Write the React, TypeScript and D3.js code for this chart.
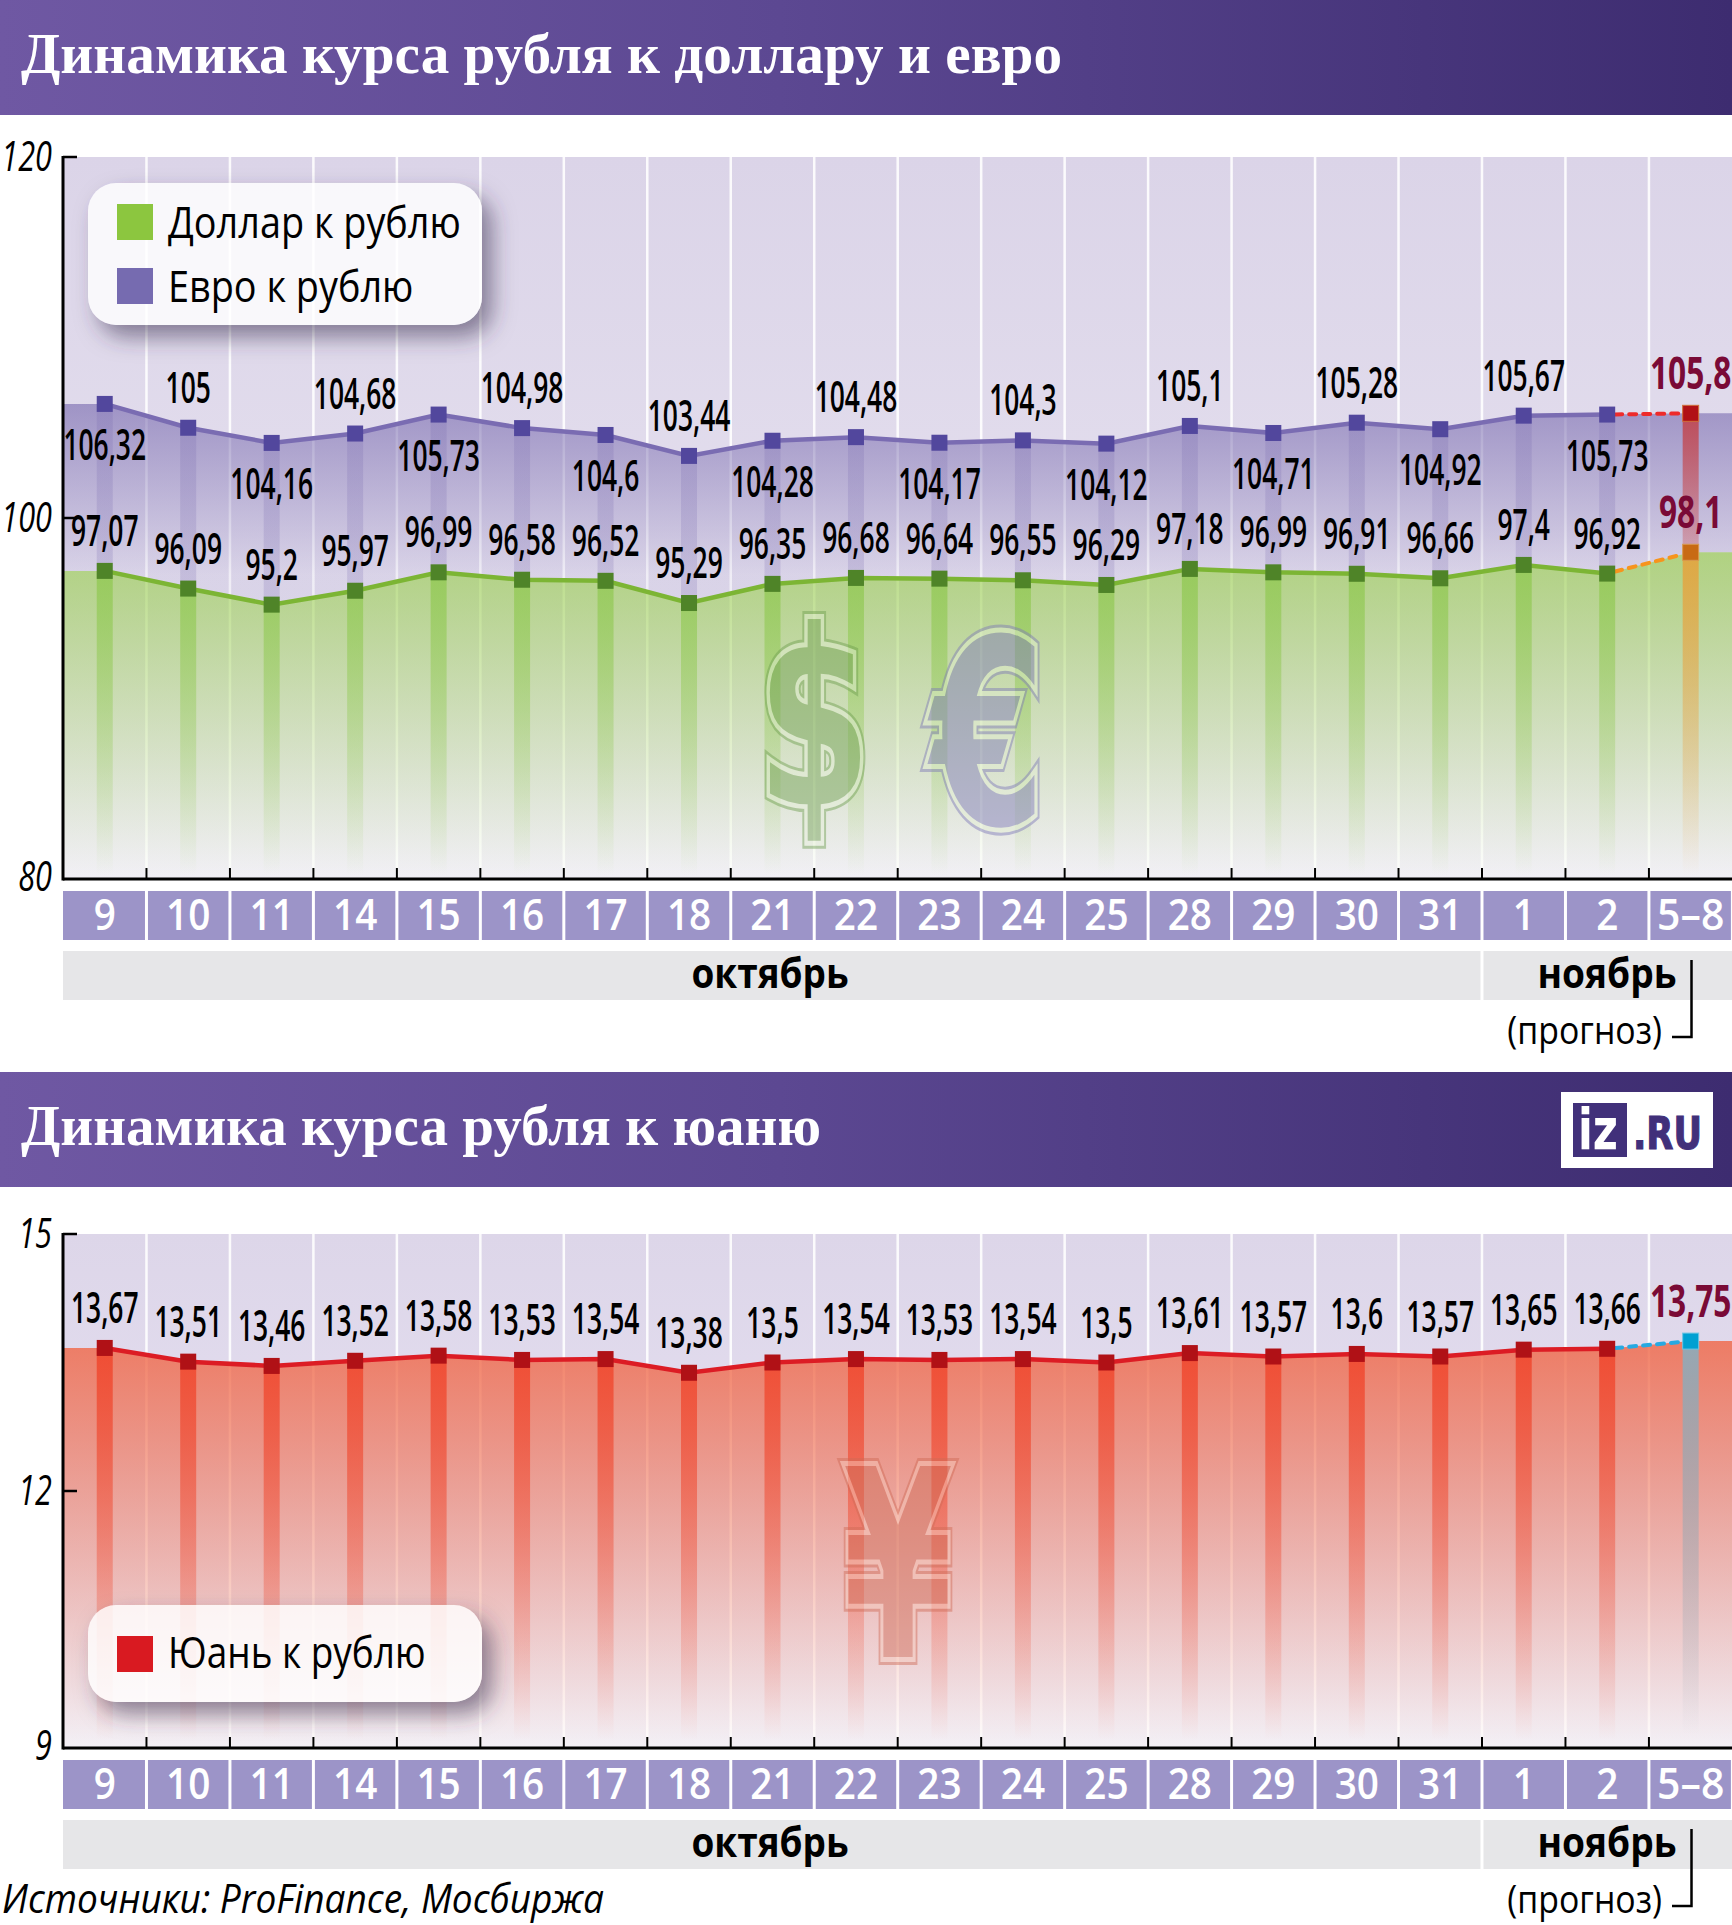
import React from 'react';
import * as d3 from 'd3';

const WIDTH = 1732;
const HEIGHT = 1925;

// дни торгов, последний столбец - прогноз
const days = ['9', '10', '11', '14', '15', '16', '17', '18', '21', '22', '23', '24', '25', '28', '29', '30', '31', '1', '2', '5–8'];
const euroValues = [106.32, 105, 104.16, 104.68, 105.73, 104.98, 104.6, 103.44, 104.28, 104.48, 104.17, 104.3, 104.12, 105.1, 104.71, 105.28, 104.92, 105.67, 105.73, 105.8];
const dollarValues = [97.07, 96.09, 95.2, 95.97, 96.99, 96.58, 96.52, 95.29, 96.35, 96.68, 96.64, 96.55, 96.29, 97.18, 96.99, 96.91, 96.66, 97.4, 96.92, 98.1];
const yuanValues = [13.67, 13.51, 13.46, 13.52, 13.58, 13.53, 13.54, 13.38, 13.5, 13.54, 13.53, 13.54, 13.5, 13.61, 13.57, 13.6, 13.57, 13.65, 13.66, 13.75];
const rubTicks = [120, 100, 80];
const yuanTicks = [15, 12, 9];

const SANS = '"Open Sans", "Noto Sans", sans-serif';
const LAST = days.length - 1;
const fmt = (v: number) => String(v).replace('.', ',');

const x = d3.scaleBand<string>().domain(days).range([63, WIDTH + 0.4]);
const cx = (i: number) => (x(days[i]) as number) + x.bandwidth() / 2;

// растянутый по вертикали шрифт: всё узкое делаем через scale по x
const T: React.FC<any> = ({ x: tx, y, sx = 0.62, size = 42, anchor = 'middle', weight = 400, fill = '#000', italic, family = SANS, children }) => (
  <text
    transform={`translate(${tx},${y}) scale(${sx},1)`}
    fontFamily={family}
    fontSize={size}
    fontWeight={weight}
    fontStyle={italic ? 'italic' : 'normal'}
    textAnchor={anchor}
    fill={fill}
  >
    {children}
  </text>
);

const Fade: React.FC<any> = ({ id, y1, y2, color, from, to = 0 }) => (
  <linearGradient id={id} gradientUnits="userSpaceOnUse" x1={0} x2={0} y1={y1} y2={y2}>
    <stop offset="0" stopColor={color} stopOpacity={from} />
    <stop offset="1" stopColor={color} stopOpacity={to} />
  </linearGradient>
);

// рамка графика: фон, сетка, оси, подписи дат и месяцев
const Frame: React.FC<any> = ({ y, ticks, id }) => {
  const [top, bottom] = [y(ticks[0]), y(ticks[2])];
  const edges = days.slice(1).map(d => x(d) as number);
  const dy = bottom;
  return (
    <g>
      <rect x={63} y={top} width={WIDTH - 63} height={bottom - top} fill={`url(#${id})`} />
      {edges.map(e => (
        <line key={e} x1={e} x2={e} y1={top} y2={bottom} stroke="#fff" strokeWidth={2.5} opacity={0.9} />
      ))}
      <g>
        {days.map(d => (
          <g key={d}>
            <rect x={(x(d) as number) + (d === '9' ? 0 : 1.5)} y={dy + 12} width={x.bandwidth() - (d === '9' ? 1.5 : 3)} height={49} fill="#9c94c8" />
            <T x={(x(d) as number) + x.bandwidth() / 2} y={dy + 51} size={44} sx={d === '5–8' ? 0.93 : 0.88} weight={600} fill="#fff">{d}</T>
          </g>
        ))}
        <rect x={63} y={dy + 72} width={(x('1') as number) - 64.5} height={49} fill="#e6e6e8" />
        <rect x={(x('1') as number) + 1.5} y={dy + 72} width={WIDTH - (x('1') as number)} height={49} fill="#e6e6e8" />
        <T x={770} y={dy + 109} size={42} sx={0.88} weight={700}>октябрь</T>
        <T x={1607} y={dy + 109} size={42} sx={0.886} weight={700}>ноябрь</T>
        <T x={1662} y={dy + 165} size={38} sx={0.89} anchor="end">(прогноз)</T>
        <path d={`M1691.5,${dy + 81}V${dy + 158}H1672`} fill="none" stroke="#000" strokeWidth={2.5} />
      </g>
    </g>
  );
};

const Axes: React.FC<any> = ({ y, ticks }) => {
  const [top, bottom] = [y(ticks[0]), y(ticks[2])];
  return (
    <g>
      <line x1={63} x2={63} y1={top - 1} y2={bottom + 1.5} stroke="#000" strokeWidth={3} />
      <line x1={63} x2={WIDTH} y1={bottom} y2={bottom} stroke="#000" strokeWidth={3} />
      {days.slice(1).map(d => (
        <line key={d} x1={x(d) as number} x2={x(d) as number} y1={bottom - 11} y2={bottom} stroke="#000" strokeWidth={2} />
      ))}
      {ticks.slice(0, 2).map((t: number) => (
        <line key={t} x1={63} x2={77} y1={y(t)} y2={y(t)} stroke="#000" strokeWidth={2.5} />
      ))}
      {ticks.map((t: number, i: number) => (
        <T key={t} x={52} y={y(t) + (i === 2 ? 12 : 14)} size={42} sx={0.73} italic anchor="end">{t}</T>
      ))}
    </g>
  );
};

// полный ряд с плоскими концами до краёв графика
const withEdges = (vals: number[]) => [
  { px: 63, v: vals[0] },
  ...vals.map((v, i) => ({ px: cx(i), v })),
  { px: WIDTH, v: vals[LAST] },
];

const Line: React.FC<any> = ({ vals, y, color, dash }) => {
  const line = d3.line<number>().x((_, i) => cx(i)).y(v => y(v));
  return (
    <g>
      <path d={line(vals.slice(0, LAST)) || ''} fill="none" stroke={color} strokeWidth={4.5} />
      <line
        x1={cx(LAST - 1) + 8}
        x2={cx(LAST) - 8}
        y1={y(vals[LAST - 1] + (vals[LAST] - vals[LAST - 1]) * 0.1)}
        y2={y(vals[LAST] - (vals[LAST] - vals[LAST - 1]) * 0.1)}
        stroke={dash}
        strokeWidth={4}
        strokeLinecap="round"
        strokeDasharray="7 7"
      />
    </g>
  );
};

const Markers: React.FC<any> = ({ vals, y, color, lastColor, lastStroke }) => (
  <g>
    {vals.map((v: number, i: number) => (
      <rect
        key={i}
        x={cx(i) - 8}
        y={y(v) - 8}
        width={16}
        height={16}
        fill={i === LAST ? lastColor : color}
        stroke={i === LAST ? lastStroke : 'none'}
        strokeWidth={1}
      />
    ))}
  </g>
);

const Labels: React.FC<any> = ({ vals, y, above }) => (
  <g>
    {vals.map((v: number, i: number) => {
      const up = above(i);
      return i === LAST
        ? <T key={i} x={cx(i) - 0} y={y(v) + (up ? -24 : 56)} size={44} sx={0.72} weight={700} fill="#7a0a36">{fmt(v)}</T>
        : <T key={i} x={cx(i)} y={y(v) + (up ? -25 : 56)} size={44} sx={0.6} weight={600}>{fmt(v)}</T>;
    })}
  </g>
);

const Legend: React.FC<any> = ({ top, height, items }) => (
  <g>
    <rect x={88} y={top} width={394} height={height} rx={28} fill="#3a3050" filter="url(#shadow)" />
    <rect x={88} y={top} width={394} height={height} rx={28} fill="#fff" fillOpacity={0.82} />
    {items.map((it: any, i: number) => (
      <g key={it.label}>
        <rect x={117} y={top + (height === 142 ? 21 + i * 64 : 31)} width={36} height={36} fill={it.color} />
        <T x={168} y={top + (height === 142 ? 55 + i * 64 : 63)} size={44} sx={it.sx} anchor="start">{it.label}</T>
      </g>
    ))}
  </g>
);

// полупрозрачный знак валюты с двойным контуром
const Sign: React.FC<any> = ({ glyph, tx, ty, sx, size, color, light }) => (
  <text
    transform={`translate(${tx},${ty}) scale(${sx},1)`}
    fontFamily='"DejaVu Sans", sans-serif'
    fontWeight={700}
    fontSize={size}
    textAnchor="middle"
    opacity={0.46}
  >
    <tspan fill="none" stroke={color} strokeWidth={16} strokeLinejoin="miter">{glyph}</tspan>
    <tspan x={0} fill="none" stroke={light} strokeWidth={10} strokeLinejoin="miter">{glyph}</tspan>
    <tspan x={0} fill={color}>{glyph}</tspan>
  </text>
);

const Banner: React.FC<any> = ({ top, height, title, length }) => (
  <g>
    <rect x={0} y={top} width={WIDTH} height={height} fill="url(#banner)" />
    <text x={21} y={top + 73} fontFamily='"Liberation Serif", serif' fontWeight={700} fontSize={57} fill="#fff" textLength={length} lengthAdjust="spacingAndGlyphs">
      {title}
    </text>
  </g>
);

export default function App() {
  const yRub = d3.scaleLinear().domain([80, 120]).range([879, 157]);
  const yYuan = d3.scaleLinear().domain([9, 15]).range([1748, 1234]);

  const euroArea = d3.area<{ px: number; v: number }>()
    .x(d => d.px)
    .y0((_, i) => yRub(withEdges(dollarValues)[i].v))
    .y1(d => yRub(d.v));
  const dollarArea = d3.area<{ px: number; v: number }>().x(d => d.px).y0(879).y1(d => yRub(d.v));
  const yuanArea = d3.area<{ px: number; v: number }>().x(d => d.px).y0(1748).y1(d => yYuan(d.v));

  return (
    <svg width={WIDTH} height={HEIGHT} style={{ position: 'absolute', left: 0, top: 0, display: 'block', background: '#fff' }}>
      <defs>
        <linearGradient id="banner" x1="0" x2="1" y1="0" y2="0">
          <stop offset="0" stopColor="#6f58a3" />
          <stop offset="0.45" stopColor="#5c4892" />
          <stop offset="1" stopColor="#3d2c70" />
        </linearGradient>
        <linearGradient id="bgRub" x1="0" x2="0" y1="0" y2="1">
          <stop offset="0" stopColor="#dbd4e8" />
          <stop offset="0.6" stopColor="#e4dfee" />
          <stop offset="1" stopColor="#f2f0f6" />
        </linearGradient>
        <linearGradient id="bgYuan" x1="0" x2="0" y1="0" y2="1">
          <stop offset="0" stopColor="#ddd6e9" />
          <stop offset="0.4" stopColor="#e2dcee" />
          <stop offset="1" stopColor="#f3f0f6" />
        </linearGradient>
        <Fade id="euroFill" y1={404} y2={575} color="#7a6cb0" from={0.64} to={0.1} />
        <Fade id="dollarFill" y1={550} y2={879} color="#95cb48" from={0.66} />
        <Fade id="yuanFill" y1={1340} y2={1748} color="#f06a4b" from={0.84} />
        <Fade id="euroBar" y1={404} y2={575} color="#7a6cb0" from={0.25} to={0.22} />
        <Fade id="dollarBar" y1={560} y2={876} color="#8ec84e" from={0.75} />
        <Fade id="foreEuroBar" y1={414} y2={553} color="#c8302f" from={0.72} to={0.25} />
        <Fade id="foreDollarBar" y1={553} y2={876} color="#ef9a2f" from={0.75} />
        <Fade id="yuanBar" y1={1340} y2={1740} color="#f0442a" from={0.85} />
        <Fade id="foreYuanBar" y1={1342} y2={1735} color="#95a8b4" from={1} />
        <filter id="shadow" x="-20%" y="-30%" width="150%" height="170%">
          <feOffset in="SourceAlpha" dx={10} dy={12} result="off" />
          <feGaussianBlur in="off" stdDeviation={11} result="blur" />
          <feFlood floodColor="#3a3050" floodOpacity={0.55} />
          <feComposite in2="blur" operator="in" result="sh" />
          <feComposite in="sh" in2="SourceAlpha" operator="out" />
        </filter>
      </defs>

      {/* рубль к доллару и евро */}
      <Banner top={0} height={115} title="Динамика курса рубля к доллару и евро" length={1041} />
      <Frame y={yRub} ticks={rubTicks} id="bgRub" />
      <path d={euroArea(withEdges(euroValues)) || ''} fill="url(#euroFill)" />
      <path d={dollarArea(withEdges(dollarValues)) || ''} fill="url(#dollarFill)" />
      {days.map((d, i) => (
        <g key={d}>
          <rect x={cx(i) - 8} y={yRub(euroValues[i])} width={16} height={yRub(dollarValues[i]) - yRub(euroValues[i])} fill={i === LAST ? 'url(#foreEuroBar)' : 'url(#euroBar)'} />
          <rect x={cx(i) - 8} y={yRub(dollarValues[i])} width={16} height={877 - yRub(dollarValues[i])} fill={i === LAST ? 'url(#foreDollarBar)' : 'url(#dollarBar)'} />
        </g>
      ))}
      <Sign glyph="$" tx={814} ty={805} sx={0.67} size={245} color="#6f9f50" light="#e6f0d8" />
      <Sign glyph="€" tx={988} ty={824} sx={0.64} size={258} color="#7d78b8" light="#e4efd4" />
      <Line vals={euroValues} y={yRub} color="#7a6cb2" dash="#ee2b2b" />
      <Line vals={dollarValues} y={yRub} color="#7cb534" dash="#f7941d" />
      <Markers vals={euroValues} y={yRub} color="#52479d" lastColor="#b11116" lastStroke="#d0703a" />
      <Markers vals={dollarValues} y={yRub} color="#4f8428" lastColor="#c86a14" lastStroke="#d89a50" />
      <Labels vals={euroValues} y={yRub} above={(i: number) => i % 2 === 1} />
      <Labels vals={dollarValues} y={yRub} above={() => true} />
      <Axes y={yRub} ticks={rubTicks} />
      <Legend
        top={183}
        height={142}
        items={[
          { label: 'Доллар к рублю', color: '#8cc63f', sx: 0.86 },
          { label: 'Евро к рублю', color: '#766bb0', sx: 0.86 },
        ]}
      />

      {/* рубль к юаню */}
      <Banner top={1072} height={115} title="Динамика курса рубля к юаню" length={800} />
      <rect x={1561} y={1092} width={152} height={76} fill="#fff" />
      <rect x={1573} y={1103} width={54} height={54} fill="#41307a" />
      <T x={1578} y={1149} size={57} sx={0.76} weight={700} fill="#fff" anchor="start" family='"DejaVu Sans", sans-serif'>iz</T>
      <text x={1633} y={1149} fontFamily='"DejaVu Sans", sans-serif' fontWeight={700} fontSize={44} fill="#41307a" stroke="#41307a" strokeWidth={1.2} textLength={69} lengthAdjust="spacingAndGlyphs">.RU</text>

      <Frame y={yYuan} ticks={yuanTicks} id="bgYuan" />
      <path d={yuanArea(withEdges(yuanValues)) || ''} fill="url(#yuanFill)" />
      {days.map((d, i) => (
        <rect key={d} x={cx(i) - 8} y={yYuan(yuanValues[i])} width={16} height={1742 - yYuan(yuanValues[i])} fill={i === LAST ? 'url(#foreYuanBar)' : 'url(#yuanBar)'} />
      ))}
      <Sign glyph="¥" tx={898} ty={1657} sx={0.6} size={262} color="#cf6a55" light="#f6c9ba" />
      <Line vals={yuanValues} y={yYuan} color="#dc1c24" dash="#27a9e1" />
      <Markers vals={yuanValues} y={yYuan} color="#b01116" lastColor="#00a0d2" lastStroke="#6cc5e4" />
      <Labels vals={yuanValues} y={yYuan} above={() => true} />
      <Axes y={yYuan} ticks={yuanTicks} />
      <Legend top={1605} height={97} items={[{ label: 'Юань к рублю', color: '#d91a21', sx: 0.84 }]} />

      <T x={2} y={1913} size={40} sx={0.926} italic anchor="start">Источники: ProFinance, Мосбиржа</T>
    </svg>
  );
}
